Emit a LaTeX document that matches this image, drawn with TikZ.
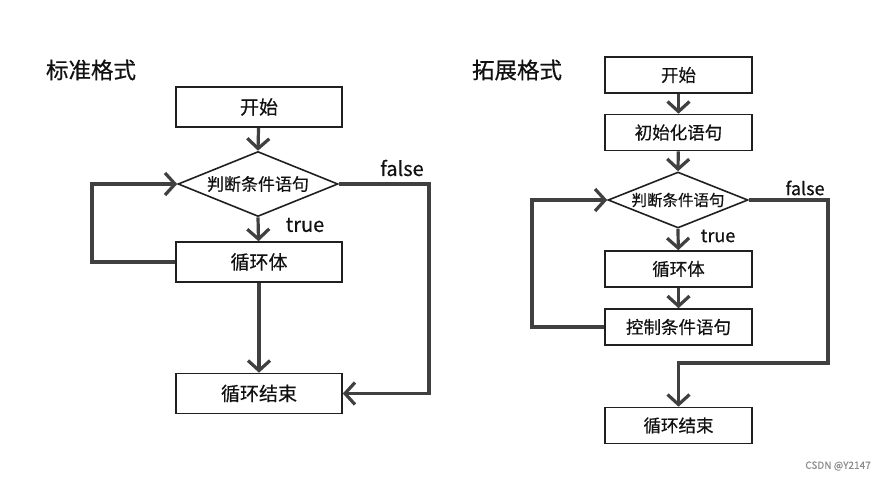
\documentclass[tikz,border=0pt]{standalone}
\usepackage{fontspec}
\setmainfont{Noto Sans CJK SC}[FakeBold=0.4]
\usetikzlibrary{arrows.meta,shapes.geometric}
\definecolor{linec}{HTML}{404040}
\definecolor{boxc}{HTML}{202020}
\definecolor{txtc}{HTML}{111111}
\tikzset{
  boxA/.style={draw=boxc, line width=1.6pt, rectangle, minimum width=166pt, minimum height=40pt, inner sep=0pt, text=txtc, font=\fontsize{19}{22}\selectfont},
  boxB/.style={draw=boxc, line width=1.6pt, rectangle, minimum width=147pt, minimum height=36pt, inner sep=0pt, text=txtc, font=\fontsize{17.5}{20}\selectfont},
  diaA/.style={draw=boxc, line width=1.6pt, diamond, inner sep=0pt, minimum width=160pt, minimum height=65pt},
  diaB/.style={draw=boxc, line width=1.6pt, diamond, inner sep=0pt, minimum width=140pt, minimum height=56pt},
  dtxtA/.style={inner sep=0pt, text=txtc, font=\fontsize{17}{20}\selectfont},
  dtxtB/.style={inner sep=0pt, text=txtc, font=\fontsize{15.5}{18}\selectfont},
  arr/.style={draw=linec, line width=3.2pt, -{Straight Barb[length=10pt,width=22pt]}},
  lblA/.style={text=txtc, inner sep=0pt, font=\fontsize{20}{24}\selectfont},
  lblB/.style={text=txtc, inner sep=0pt, font=\fontsize{18}{22}\selectfont},
  ttl/.style={text=txtc, inner sep=0pt, font=\fontsize{22.5}{26}\selectfont},
}
\begin{document}
\begin{tikzpicture}[x=1pt,y=-1pt]
\useasboundingbox[fill=white] (0,0) rectangle (890,480);
% ---------- left: standard ----------
\node[ttl] (t1) at (91,70) {标准格式};
\node[boxA] (s1) at (259,107) {开始};
\node[diaA] (d1) at (258,184) {};
\node[dtxtA] (d1t) at (d1) {判断条件语句};
\node[boxA] (b1) at (259,262) {循环体};
\node[boxA] (e1) at (259,393.5) {循环结束};
\coordinate (l1) at (92,184);
\coordinate (r1) at (429,393.5);
\draw[arr] (s1) -- (d1.north);
\draw[arr] (d1.south) -- (b1);
\draw[arr] (b1) -- (e1);
\draw[arr] (b1.west) -| (l1) -- (d1.west);
\draw[arr] (d1.east) -| (r1) -- (e1.east);
\node[lblA] (tr1) at (305,225) {true};
\node[lblA] (fa1) at (402,168) {false};
% ---------- right: extended ----------
\node[ttl] (t2) at (517,70) {拓展格式};
\node[boxB] (s2) at (678.5,75) {开始};
\node[boxB] (i2) at (678.5,132.5) {初始化语句};
\node[diaB] (d2) at (678,200) {};
\node[dtxtB] (d2t) at (d2) {判断条件语句};
\node[boxB] (b2) at (678.5,269) {循环体};
\node[boxB] (c2) at (678.5,327) {控制条件语句};
\node[boxB] (e2) at (678.5,425.5) {循环结束};
\coordinate (l2) at (532,200);
\coordinate (r2) at (828,363);
\draw[arr] (s2) -- (i2);
\draw[arr] (i2) -- (d2.north);
\draw[arr] (d2.south) -- (b2);
\draw[arr] (b2) -- (c2);
\draw[arr] (c2.west) -| (l2) -- (d2.west);
\draw[arr] (d2.east) -| (r2) -| (e2.north);
\node[lblB] (tr2) at (718,236) {true};
\node[lblB] (fa2) at (805,188) {false};
% watermark
\node[text=black!45, inner sep=0pt, font=\fontsize{10}{12}\selectfont] (wm) at (838,466) {CSDN @Y2147};
\end{tikzpicture}
\end{document}
